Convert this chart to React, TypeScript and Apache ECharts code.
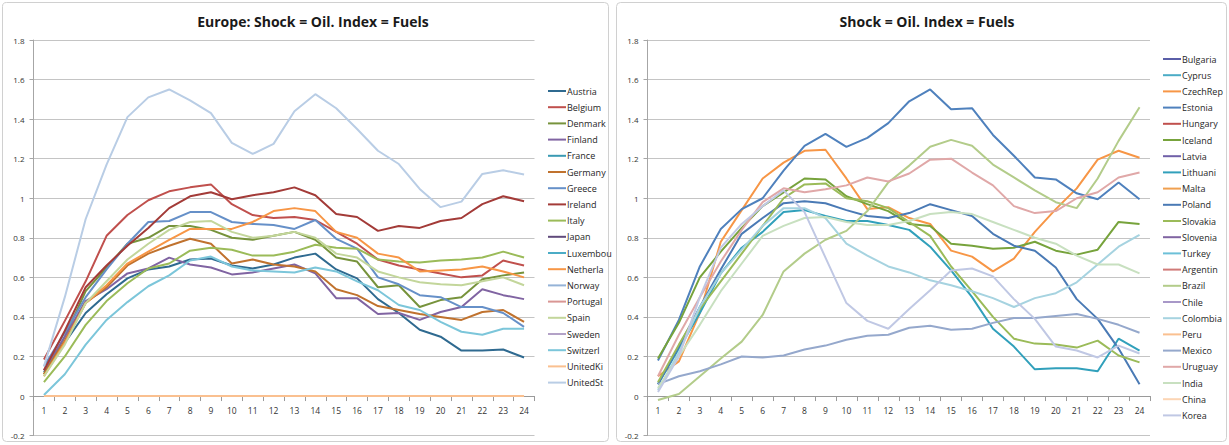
import React, { useEffect, useRef } from "react";
import * as echarts from "echarts";

const categories = Array.from({ length: 24 }, (_, i) => String(i + 1));

const leftTitle = "Europe: Shock = Oil. Index = Fuels";
const rightTitle = "Shock = Oil. Index = Fuels";

// Europe panel
const europeNames = ["Austria", "Belgium", "Denmark", "Finland", "France", "Germany", "Greece", "Ireland", "Italy", "Japan", "Luxembou", "Netherla", "Norway", "Portugal", "Spain", "Sweden", "Switzerl", "UnitedKi", "UnitedSt"];
const europeColors = ["#2f6a90", "#c0504d", "#77933c", "#8064a2", "#3a9ab3", "#c0722e", "#6690c8", "#a33b38", "#9bbb59", "#604a7b", "#4bacc6", "#f79646", "#95b3d7", "#d99694", "#c3d69b", "#b3a2c7", "#7cc6da", "#fac090", "#b9cde5"];
const austria = [0.12, 0.27, 0.42, 0.515, 0.595, 0.64, 0.655, 0.69, 0.695, 0.66, 0.645, 0.665, 0.7, 0.72, 0.64, 0.595, 0.49, 0.42, 0.335, 0.3, 0.23, 0.23, 0.235, 0.195];
const belgium = [0.185, 0.38, 0.58, 0.81, 0.915, 0.99, 1.035, 1.055, 1.07, 0.97, 0.915, 0.9, 0.905, 0.89, 0.83, 0.77, 0.69, 0.66, 0.64, 0.62, 0.6, 0.61, 0.685, 0.66];
const denmark = [0.11, 0.3, 0.53, 0.65, 0.77, 0.8, 0.86, 0.86, 0.84, 0.8, 0.79, 0.81, 0.83, 0.79, 0.7, 0.68, 0.55, 0.56, 0.45, 0.485, 0.5, 0.59, 0.61, 0.625];
const finland = [0.13, 0.3, 0.48, 0.54, 0.62, 0.645, 0.7, 0.665, 0.65, 0.615, 0.625, 0.645, 0.665, 0.62, 0.495, 0.495, 0.415, 0.42, 0.385, 0.425, 0.45, 0.54, 0.51, 0.49];
const france: (number | null)[] = [];
const germany = [0.11, 0.28, 0.47, 0.55, 0.66, 0.72, 0.76, 0.795, 0.77, 0.67, 0.69, 0.665, 0.655, 0.63, 0.54, 0.51, 0.455, 0.435, 0.415, 0.4, 0.385, 0.425, 0.435, 0.375];
const greece = [0.15, 0.32, 0.5, 0.64, 0.77, 0.88, 0.885, 0.93, 0.93, 0.88, 0.87, 0.865, 0.845, 0.89, 0.795, 0.745, 0.6, 0.565, 0.51, 0.5, 0.45, 0.45, 0.42, 0.35];
const ireland = [0.13, 0.33, 0.55, 0.66, 0.76, 0.85, 0.95, 1.01, 1.03, 0.995, 1.015, 1.03, 1.055, 1.015, 0.92, 0.905, 0.835, 0.86, 0.85, 0.885, 0.9, 0.97, 1.01, 0.985];
const italy = [0.07, 0.2, 0.36, 0.48, 0.57, 0.645, 0.67, 0.735, 0.75, 0.74, 0.71, 0.71, 0.73, 0.765, 0.75, 0.745, 0.69, 0.68, 0.675, 0.685, 0.69, 0.7, 0.73, 0.7];
const japan: (number | null)[] = [];
const luxembou: (number | null)[] = [];
const netherla = [0.1, 0.27, 0.47, 0.56, 0.67, 0.73, 0.79, 0.845, 0.845, 0.845, 0.88, 0.935, 0.95, 0.935, 0.83, 0.8, 0.72, 0.7, 0.63, 0.635, 0.64, 0.655, 0.63, 0.6];
const norway: (number | null)[] = [];
const portugal: (number | null)[] = [];
const spain = [0.1, 0.26, 0.47, 0.58, 0.69, 0.77, 0.84, 0.88, 0.885, 0.83, 0.8, 0.81, 0.83, 0.8, 0.72, 0.7, 0.63, 0.6, 0.575, 0.565, 0.56, 0.58, 0.6, 0.56];
const sweden: (number | null)[] = [];
const switzerl = [0.005, 0.11, 0.26, 0.385, 0.475, 0.555, 0.61, 0.685, 0.705, 0.655, 0.635, 0.63, 0.625, 0.65, 0.63, 0.58, 0.535, 0.46, 0.435, 0.375, 0.325, 0.31, 0.34, 0.34];
const unitedKi = [0, 0, 0, 0, 0, 0, 0, 0, 0, 0, 0, 0, 0, 0, 0, 0, 0, 0, 0, 0, 0, 0, 0, 0];
const unitedSt = [0.15, 0.5, 0.895, 1.17, 1.41, 1.51, 1.55, 1.495, 1.43, 1.28, 1.224, 1.275, 1.44, 1.526, 1.455, 1.35, 1.24, 1.173, 1.047, 0.955, 0.983, 1.123, 1.141, 1.12];
const europeData = [austria, belgium, denmark, finland, france, germany, greece, ireland, italy, japan, luxembou, netherla, norway, portugal, spain, sweden, switzerl, unitedKi, unitedSt];

// Other countries panel
const otherNames = ["Bulgaria", "Cyprus", "CzechRep", "Estonia", "Hungary", "Iceland", "Latvia", "Lithuani", "Malta", "Poland", "Slovakia", "Slovenia", "Turkey", "Argentin", "Brazil", "Chile", "Colombia", "Peru", "Mexico", "Uruguay", "India", "China", "Korea"];
const otherColors = ["#5a5ea8", "#4bacc6", "#f79646", "#4f81bd", "#c0504d", "#77a33c", "#7060a8", "#31a0bb", "#f0a050", "#4a7ab5", "#9bbb59", "#8064a2", "#6cc0d8", "#d07a78", "#b3cc8a", "#a898c8", "#a6d3e0", "#fac090", "#95a8cc", "#e0a8a8", "#c8e0c0", "#fcd5b4", "#c0c8e4"];
const bulgaria: (number | null)[] = [];
const cyprus: (number | null)[] = [];
const czechRep = [0.1, 0.175, 0.42, 0.78, 0.94, 1.1, 1.18, 1.24, 1.245, 1.1, 0.945, 0.955, 0.9, 0.87, 0.735, 0.705, 0.63, 0.695, 0.83, 0.945, 1.05, 1.195, 1.24, 1.205];
const estonia = [0.18, 0.385, 0.655, 0.845, 0.945, 1.0, 1.14, 1.265, 1.325, 1.26, 1.305, 1.38, 1.49, 1.55, 1.45, 1.455, 1.32, 1.215, 1.105, 1.095, 1.025, 0.995, 1.08, 0.995];
const hungary: (number | null)[] = [];
const iceland = [0.19, 0.37, 0.6, 0.73, 0.85, 0.96, 1.03, 1.1, 1.095, 1.01, 0.97, 0.935, 0.87, 0.86, 0.77, 0.76, 0.745, 0.75, 0.78, 0.735, 0.715, 0.74, 0.88, 0.87];
const latvia: (number | null)[] = [];
const lithuani = [0.06, 0.24, 0.42, 0.62, 0.75, 0.83, 0.93, 0.94, 0.91, 0.885, 0.885, 0.865, 0.84, 0.755, 0.635, 0.5, 0.34, 0.25, 0.135, 0.14, 0.14, 0.125, 0.29, 0.23];
const malta: (number | null)[] = [];
const poland = [0.06, 0.25, 0.45, 0.64, 0.82, 0.9, 0.975, 0.985, 0.975, 0.94, 0.91, 0.9, 0.925, 0.97, 0.94, 0.91, 0.82, 0.76, 0.735, 0.65, 0.49, 0.39, 0.24, 0.06];
const slovakia = [0.07, 0.26, 0.44, 0.58, 0.72, 0.86, 1.0, 1.07, 1.075, 1.0, 0.985, 0.95, 0.88, 0.81, 0.655, 0.53, 0.4, 0.29, 0.265, 0.26, 0.245, 0.28, 0.205, 0.17];
const slovenia: (number | null)[] = [];
const turkey: (number | null)[] = [];
const argentin: (number | null)[] = [];
const brazil = [-0.02, 0.01, 0.1, 0.19, 0.275, 0.41, 0.63, 0.72, 0.79, 0.835, 0.935, 1.08, 1.165, 1.26, 1.295, 1.265, 1.17, 1.105, 1.04, 0.98, 0.95, 1.1, 1.29, 1.46];
const chile: (number | null)[] = [];
const colombia = [0.03, 0.22, 0.45, 0.62, 0.74, 0.86, 0.95, 0.95, 0.9, 0.77, 0.71, 0.655, 0.625, 0.585, 0.56, 0.53, 0.495, 0.45, 0.495, 0.52, 0.575, 0.665, 0.755, 0.815];
const peru: (number | null)[] = [];
const mexico = [0.06, 0.1, 0.125, 0.16, 0.2, 0.195, 0.205, 0.235, 0.255, 0.285, 0.305, 0.31, 0.345, 0.355, 0.335, 0.34, 0.37, 0.395, 0.395, 0.405, 0.415, 0.39, 0.36, 0.32];
const uruguay = [0.1, 0.31, 0.5, 0.68, 0.84, 0.98, 1.05, 1.03, 1.045, 1.065, 1.105, 1.085, 1.125, 1.195, 1.2, 1.13, 1.065, 0.96, 0.925, 0.935, 1.0, 1.03, 1.105, 1.13];
const india = [0.04, 0.2, 0.36, 0.53, 0.67, 0.81, 0.86, 0.9, 0.905, 0.88, 0.865, 0.865, 0.885, 0.92, 0.93, 0.92, 0.88, 0.84, 0.8, 0.77, 0.71, 0.665, 0.665, 0.62];
const china: (number | null)[] = [];
const korea = [0.02, 0.2, 0.5, 0.75, 0.87, 0.96, 1.04, 0.93, 0.7, 0.47, 0.38, 0.34, 0.44, 0.535, 0.635, 0.645, 0.605, 0.49, 0.39, 0.25, 0.23, 0.195, 0.255, 0.215];
const otherData = [bulgaria, cyprus, czechRep, estonia, hungary, iceland, latvia, lithuani, malta, poland, slovakia, slovenia, turkey, argentin, brazil, chile, colombia, peru, mexico, uruguay, india, china, korea];

const FONT = "'Open Sans', 'Liberation Sans', sans-serif";
const GRID_TOP = 40;
const GRID_H = 395.6;
const STEP = GRID_H / 10; // pixels per 0.2

function axes(gridIndex: number) {
  const xAxis = {
    type: "category",
    gridIndex,
    position: "bottom",
    offset: -STEP,
    data: categories,
    boundaryGap: true,
    axisLine: { onZero: false, lineStyle: { color: "#9a9a9a", width: 1 } },
    axisTick: { show: true, length: 5, lineStyle: { color: "#9a9a9a" } },
    axisLabel: { color: "#333333", fontSize: 8.5, fontFamily: FONT, margin: 10 },
    splitLine: { show: false },
  };
  const yAxis = {
    type: "value",
    gridIndex,
    min: -0.2,
    max: 1.8,
    interval: 0.2,
    axisLine: { show: true, lineStyle: { color: "#a6a6a6", width: 1 } },
    axisTick: { show: true, length: 4, lineStyle: { color: "#a6a6a6" } },
    axisLabel: {
      color: "#333333",
      fontSize: 8,
      fontFamily: FONT,
      margin: 9,
      formatter: (v: number) => String(Math.round(v * 10) / 10),
    },
    splitLine: { show: true, lineStyle: { color: "#c4c4c4", width: 1 } },
  };
  return { xAxis, yAxis };
}

function buildSeries(names: string[], colors: string[], data: (number | null)[][], idx: number) {
  return names.map((name, i) => ({
    name,
    type: "line",
    xAxisIndex: idx,
    yAxisIndex: idx,
    data: data[i],
    symbol: "none",
    showSymbol: false,
    lineStyle: { width: 2, color: colors[i] },
    itemStyle: { color: colors[i] },
    emphasis: { disabled: true },
  }));
}

export default function App() {
  const ref = useRef<HTMLDivElement>(null);
  useEffect(() => {
    if (!ref.current) return;
    const chart = echarts.init(ref.current, undefined, { renderer: "svg" });
    const a0 = axes(0);
    const a1 = axes(1);
    const legendCommon = {
      orient: "vertical",
      itemWidth: 18,
      itemHeight: 10,
      itemGap: 6.2,
      icon: "path://M0,4 L18,4 L18,6 L0,6 Z",
      textStyle: { fontSize: 9, lineHeight: 10, color: "#262626", fontFamily: FONT, padding: [0, 0, 0, -4] },
      selectedMode: false,
      padding: 0,
    };
    const titleStyle = { fontSize: 14, fontWeight: "bold", color: "#1a1a1a", fontFamily: FONT };
    chart.setOption({
      animation: false,
      backgroundColor: "#ffffff",
      title: [
        { text: leftTitle, left: 308, top: 9, textAlign: "center", textStyle: titleStyle },
        { text: rightTitle, left: 922, top: 9, textAlign: "center", textStyle: titleStyle },
      ],
      graphic: [
        { type: "rect", shape: { x: 2.5, y: 2.5, width: 606, height: 439, r: 4 }, style: { fill: "none", stroke: "#d0d0d0", lineWidth: 1 }, silent: true, z: -1 },
        { type: "rect", shape: { x: 616.5, y: 2.5, width: 610, height: 439, r: 4 }, style: { fill: "none", stroke: "#d0d0d0", lineWidth: 1 }, silent: true, z: -1 },
      ],
      legend: [
        { ...legendCommon, left: 548, top: 86, data: europeNames },
        { ...legendCommon, left: 1163, top: 54, data: otherNames },
      ],
      grid: [
        { left: 33.5, top: GRID_TOP, width: 501, height: GRID_H, containLabel: false, outerBoundsMode: "none" },
        { left: 647.5, top: GRID_TOP, width: 502.5, height: GRID_H, containLabel: false, outerBoundsMode: "none" },
      ],
      xAxis: [a0.xAxis, a1.xAxis],
      yAxis: [a0.yAxis, a1.yAxis],
      series: [
        ...buildSeries(europeNames, europeColors, europeData, 0),
        ...buildSeries(otherNames, otherColors, otherData, 1),
      ],
    });
    return () => chart.dispose();
  }, []);
  return <div ref={ref} style={{ position: "fixed", left: 0, top: 0, width: 1229, height: 445 }} />;
}
